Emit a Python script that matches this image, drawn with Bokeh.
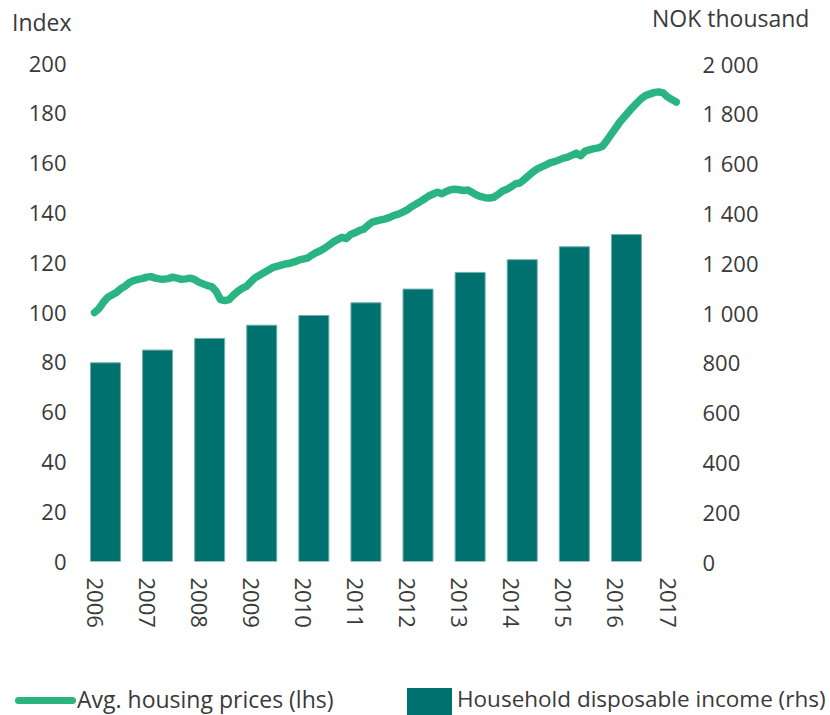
from bokeh.plotting import figure
from bokeh.models import (Range1d, LinearAxis, FixedTicker, CustomJSTickFormatter, Div)
from bokeh.layouts import column
from bokeh.embed import file_html
from bokeh.resources import INLINE

# ---------------- data ----------------
years = [2006, 2007, 2008, 2009, 2010, 2011, 2012, 2013, 2014, 2015, 2016]
income = [798, 849, 896, 949, 988, 1039, 1094, 1161, 1212, 1264, 1313]  # NOK thousand (rhs)
tick_years = [2006, 2007, 2008, 2009, 2010, 2011, 2012, 2013, 2014, 2015, 2016, 2017]
left_ticks = [0, 20, 40, 60, 80, 100, 120, 140, 160, 180, 200]
right_ticks = [0, 200, 400, 600, 800, 1000, 1200, 1400, 1600, 1800, 2000]
left_title = "Index"
right_title = "NOK thousand"
legend_labels = ["Avg. housing prices (lhs)", "Household disposable income (rhs)"]

# monthly housing price index, Jan 2006 - Mar 2017 (lhs)
housing = [
    100.0, 101.5, 104.0, 106.0, 107.0, 108.0, 109.5, 110.5, 112.0, 112.8, 113.3, 113.6,
    114.2, 114.4, 113.8, 113.5, 113.4, 113.6, 114.2, 113.8, 113.3, 113.5, 113.8, 113.3,
    112.2, 111.5, 110.8, 110.4, 108.5, 105.2, 104.8, 105.2, 107.0, 108.5, 109.7, 110.5,
    112.3, 114.0, 115.0, 116.0, 117.0, 118.0, 118.5, 119.0, 119.5, 119.8, 120.3, 121.0,
    121.4, 121.8, 123.0, 124.0, 124.8, 125.8, 127.0, 128.3, 129.3, 130.2, 129.7, 131.3,
    132.0, 132.9, 133.5, 135.0, 136.3, 136.8, 137.2, 137.6, 138.2, 139.0, 139.5, 140.3,
    141.2, 142.5, 143.5, 144.5, 145.6, 146.8, 147.6, 148.3, 147.7, 148.6, 149.3, 149.5,
    149.3, 149.0, 149.2, 148.2, 147.2, 146.5, 146.1, 146.0, 146.3, 147.5, 148.8, 149.5,
    150.5, 151.7, 152.0, 153.5, 155.0, 156.5, 157.7, 158.5, 159.3, 160.2, 160.6, 161.3,
    162.0, 162.4, 163.2, 164.0, 163.0, 164.8, 165.3, 165.8, 166.1, 166.8, 169.0, 171.5,
    174.0, 176.5, 178.5, 180.5, 182.5, 184.3, 186.0, 187.2, 187.8, 188.4, 188.6, 188.2,
    186.5, 185.5, 184.5,
]
start_year = 2006

# ---------------- styling ----------------
FONT = "Open Sans"
TXT = "#3a3a3a"
BAR = "#00716E"
LINE = "#2AB482"
FS = "22px"
W = 830

month_x = [start_year + i / 12 for i in range(len(housing))]
bar_x = [y + 0.21 for y in years]

# ---------------- top titles ----------------
top_html = f"""
<div style="position:relative;width:{W}px;height:40px;font-family:'Open Sans';font-size:23px;
            line-height:30px;color:{TXT};">
  <span style="position:absolute;left:12px;top:7px;white-space:nowrap;">{left_title}</span>
  <span style="position:absolute;left:652px;top:3px;white-space:nowrap;">{right_title}</span>
</div>"""
top = Div(text=top_html, width=W, height=40, styles={"margin": "0", "padding": "0"})

# ---------------- main chart ----------------
p = figure(width=W, height=640, output_backend="svg", toolbar_location=None,
           x_range=Range1d(2005.635, 2017.44), y_range=Range1d(0, 200),
           min_border_left=75, min_border_right=140, min_border_top=23,
           min_border_bottom=119, x_axis_location=None, y_axis_location=None)
p.outline_line_color = None
p.xgrid.visible = False
p.ygrid.visible = False
p.background_fill_color = None
p.border_fill_color = "white"

p.extra_y_ranges = {"rhs": Range1d(0, 2000)}

p.vbar(x=bar_x, top=income, width=0.576, bottom=0, y_range_name="rhs",
       fill_color=BAR, line_color="#6fb0ad", line_width=1)
p.line(x=month_x, y=housing, line_color=LINE, line_width=7.5,
       line_cap="round", line_join="round")


def style(ax):
    ax.axis_line_color = None
    ax.major_tick_line_color = None
    ax.minor_tick_line_color = None
    ax.major_tick_out = 0
    ax.major_tick_in = 0
    ax.minor_tick_out = 0
    ax.major_label_text_font = FONT
    ax.major_label_text_font_size = FS
    ax.major_label_text_color = TXT


left = LinearAxis(ticker=FixedTicker(ticks=left_ticks))
style(left)
left.major_label_standoff = 9
p.add_layout(left, "left")

right = LinearAxis(y_range_name="rhs", ticker=FixedTicker(ticks=right_ticks),
                   formatter=CustomJSTickFormatter(code="""
                       if (tick >= 1000) {
                           const t = Math.round(tick);
                           return Math.floor(t/1000) + ' ' + String(t % 1000).padStart(3, '0');
                       }
                       return String(tick);
                   """))
style(right)
right.major_label_standoff = 12
p.add_layout(right, "right")

bottom = LinearAxis(ticker=FixedTicker(ticks=tick_years),
                    major_label_overrides={y: str(y) for y in tick_years})
style(bottom)
bottom.major_label_orientation = "vertical"
bottom.major_label_standoff = 16
p.add_layout(bottom, "below")

# ---------------- legend strip ----------------
legend_html = f"""
<div style="position:relative;width:{W}px;height:35px;font-family:'Open Sans';font-size:23px;
            line-height:30px;color:{TXT};overflow:hidden;">
  <div style="position:absolute;left:15px;top:17px;width:61px;height:7px;border-radius:4px;
              background:{LINE};"></div>
  <span style="position:absolute;left:77px;top:4px;white-space:nowrap;">{legend_labels[0]}</span>
  <div style="position:absolute;left:407px;top:8px;width:45px;height:27px;background:{BAR};"></div>
  <span style="position:absolute;left:457px;top:4px;white-space:nowrap;font-size:22.5px;">{legend_labels[1]}</span>
</div>"""
leg = Div(text=legend_html, width=W, height=35, styles={"margin": "0", "padding": "0"})

layout = column(top, p, leg, spacing=0)
open("out.html", "w").write(file_html(layout, INLINE))
